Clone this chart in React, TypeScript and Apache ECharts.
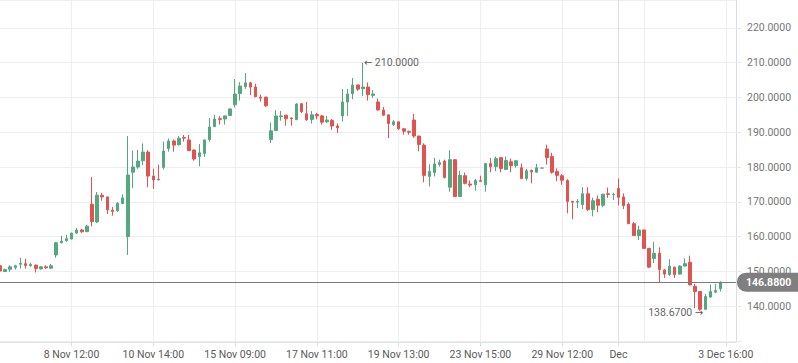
import React, { useEffect, useRef } from "react";
import * as echarts from "echarts";

// OHLC values, one per candle (slot 0..141)
const opens = [
  151.6, 149.95, 150.6, 151.1, 152.05, 152.2, 151.6, 151.8, 150.7, 151.3,
  150.9, 154.7, 158.2, 158.8, 159.3, 161.0, 161.9, 161.4, 169.3, 164.2,
  171.9, 171.4, 167.6, 167.4, 169.5, 160.0, 178.5, 180.0, 181.8, 184.3,
  177.4, 176.4, 179.9, 185.3, 187.5, 186.4, 188.5, 187.8, 184.9, 183.0,
  183.9, 187.9, 191.6, 193.9, 193.8, 194.8, 197.9, 201.1, 203.1, 204.2,
  203.0, 200.1, 200.1, 187.9, 190.5, 194.5, 194.9, 194.1, 193.6, 198.2,
  195.3, 193.7, 195.1, 194.7, 193.0, 193.4, 191.8, 194.7, 198.7, 201.1,
  203.6, 202.5, 203.0, 200.6, 198.7, 196.4, 195.0, 192.2, 193.0, 191.0,
  190.2, 193.5, 188.9, 186.3, 177.3, 178.4, 180.7, 181.7, 174.2, 182.1,
  171.5, 177.5, 175.1, 174.9, 176.1, 174.9, 181.0, 180.1, 182.7, 179.3,
  181.5, 180.4, 179.8, 176.7, 179.0, 178.5, 179.7, 185.2, 183.0, 178.7,
  177.5, 176.1, 170.1, 169.9, 169.2, 172.3, 167.8, 170.7, 169.0, 172.3,
  172.0, 173.8, 171.4, 169.3, 163.7, 160.3, 161.9, 156.6, 153.7, 155.2,
  150.4, 149.1, 151.2, 149.2, 151.5, 152.6, 145.7, 144.2, 139.1, 142.6,
  144.0, 145.0,
];
const closes = [
  150.1, 150.5, 151.3, 151.6, 152.3, 151.7, 152.0, 150.8, 151.3, 151.0,
  151.6, 158.2, 158.7, 159.4, 161.0, 161.9, 161.4, 163.0, 164.3, 171.9,
  171.4, 167.7, 167.2, 169.6, 171.1, 177.7, 180.0, 181.7, 184.3, 177.4,
  176.3, 176.3, 184.6, 187.5, 186.3, 188.3, 188.3, 184.7, 182.3, 184.1,
  187.8, 191.5, 193.8, 193.7, 194.7, 196.7, 201.0, 203.3, 204.2, 203.0,
  200.2, 199.8, 197.6, 190.4, 194.7, 194.7, 193.9, 193.9, 198.1, 195.9,
  193.6, 195.0, 194.7, 192.9, 193.5, 191.8, 191.3, 198.7, 201.0, 203.6,
  202.4, 203.0, 200.8, 201.0, 196.4, 194.9, 192.5, 193.0, 191.0, 190.3,
  190.0, 188.9, 186.5, 177.6, 178.7, 180.9, 181.3, 177.0, 182.1, 171.5,
  177.6, 175.3, 174.8, 176.1, 175.9, 181.0, 180.1, 182.4, 179.6, 181.9,
  180.4, 181.8, 176.7, 178.9, 178.6, 179.8, 179.7, 182.7, 178.5, 177.6,
  176.2, 170.1, 169.9, 170.1, 172.3, 167.8, 170.3, 169.0, 172.2, 172.1,
  172.1, 171.3, 168.9, 163.7, 160.3, 161.9, 156.6, 151.2, 155.2, 150.5,
  149.2, 151.5, 149.1, 151.5, 152.2, 146.1, 144.2, 139.1, 142.75, 144.2,
  144.5, 146.88,
];
const lows = [
  149.9, 149.85, 149.9, 150.5, 150.8, 150.8, 151.3, 149.65, 150.5, 150.7,
  150.7, 153.9, 158.1, 158.5, 159.2, 160.8, 161.0, 161.3, 162.9, 163.9,
  170.3, 166.5, 166.0, 167.1, 169.3, 154.7, 173.9, 179.5, 180.5, 174.2,
  173.7, 176.2, 179.3, 184.4, 184.4, 186.2, 187.3, 184.6, 181.8, 180.2,
  182.9, 187.3, 191.5, 192.2, 192.2, 194.7, 197.1, 199.1, 202.5, 200.7,
  200.1, 198.8, 197.3, 186.9, 190.4, 193.3, 191.9, 191.9, 193.5, 195.5,
  193.3, 192.5, 193.7, 192.2, 192.6, 190.7, 189.8, 193.1, 194.7, 199.5,
  201.9, 200.4, 199.1, 199.9, 196.3, 194.7, 188.3, 191.8, 190.7, 189.3,
  189.3, 188.4, 184.5, 175.6, 174.4, 177.3, 180.1, 176.7, 172.9, 171.4,
  171.4, 175.0, 174.2, 173.2, 175.8, 172.9, 178.5, 178.8, 178.5, 179.2,
  178.5, 179.8, 176.6, 176.1, 175.3, 178.4, 179.7, 180.7, 178.1, 175.9,
  174.9, 166.7, 165.0, 168.2, 167.9, 167.3, 165.8, 167.0, 168.4, 171.1,
  170.5, 169.0, 167.9, 163.6, 160.2, 159.0, 156.5, 151.0, 152.4, 146.8,
  148.1, 148.7, 148.1, 149.1, 151.4, 146.0, 139.4, 138.67, 138.9, 142.4,
  143.9, 144.2,
];
const highs = [
  151.8, 150.8, 151.7, 151.9, 153.9, 153.6, 152.5, 151.9, 151.5, 151.7,
  152.1, 158.5, 160.2, 160.5, 161.1, 162.5, 162.2, 163.4, 177.1, 172.8,
  172.6, 171.5, 168.5, 169.8, 172.1, 188.9, 184.7, 184.9, 186.8, 184.8,
  179.5, 180.7, 187.3, 188.2, 187.9, 188.9, 189.2, 189.2, 185.0, 186.6,
  187.9, 194.1, 195.0, 194.6, 194.8, 196.8, 205.3, 204.4, 207.0, 204.5,
  203.9, 200.8, 200.2, 192.8, 196.4, 196.1, 195.0, 194.2, 198.4, 198.4,
  198.7, 196.1, 195.6, 195.0, 194.7, 193.8, 192.5, 202.4, 202.4, 205.6,
  203.7, 210.0, 204.3, 202.1, 199.7, 197.3, 195.1, 193.5, 193.1, 191.1,
  190.5, 195.3, 189.0, 186.8, 180.8, 182.6, 182.1, 182.1, 184.8, 182.2,
  178.9, 178.4, 176.1, 176.6, 177.5, 181.0, 182.6, 183.0, 182.9, 183.0,
  182.4, 181.9, 181.0, 179.5, 179.3, 180.9, 179.7, 186.4, 184.1, 179.6,
  178.0, 176.5, 170.3, 170.8, 174.2, 174.2, 171.2, 171.8, 172.3, 174.1,
  172.6, 176.7, 172.4, 169.8, 164.2, 163.1, 162.0, 156.7, 158.5, 156.9,
  150.7, 153.5, 151.3, 151.7, 153.7, 154.5, 146.4, 144.3, 143.5, 146.2,
  146.4, 147.1,
];

// x axis: slot count (candles plus empty room on the right) and labelled slots
const slotCount = 145;
const tickLabels: Record<number, string> = {
  14: "8 Nov 12:00",
  30: "10 Nov 14:00",
  46: "15 Nov 09:00",
  62: "17 Nov 11:00",
  78: "19 Nov 13:00",
  94: "23 Nov 15:00",
  110: "29 Nov 12:00",
  121: "Dec",
  142: "3 Dec 16:00",
};
const gridLineSlots = [14, 30, 46, 62, 78, 94, 110, 121, 126, 142];
const monthSlot = 121;

const lastPrice = 146.88;
const maxPoint = { slot: 71, value: 210.0 };
const minPoint = { slot: 137, value: 138.67 };
const yMin = 129.68;
const yMax = 228.03;
const firstLabelledValue = 140;

const UP = "#55a77f";
const DOWN = "#e0534f";

export default function App() {
  const ref = useRef<HTMLDivElement>(null);
  useEffect(() => {
    if (!ref.current) return;
    const chart = echarts.init(ref.current, undefined, { renderer: "svg" });
    const categories = Array.from({ length: slotCount }, (_, i) => String(i));
    const data = opens.map((o, i) => [o, closes[i], lows[i], highs[i]]);
    const isTick = (i: number) => tickLabels[i] !== undefined;
    const gridColors = gridLineSlots.map((s) => (s === monthSlot ? "#dcdfe4" : "#eceef1"));
    const arrowRich = { a: { fontFamily: "DejaVu Sans", fontSize: 10, color: "#555555" } };
    chart.setOption({
      animation: false,
      textStyle: { fontFamily: "Roboto" },
      grid: { left: 0, right: 62, top: -1, bottom: 21 },
      xAxis: {
        type: "category",
        data: categories,
        boundaryGap: false,
        axisLine: { show: true, lineStyle: { color: "#dfe2e6", width: 1 } },
        axisTick: {
          show: true,
          interval: (i: number) => isTick(i),
          length: 4,
          lineStyle: { color: "#d8dbe0" },
        },
        axisLabel: {
          interval: (i: number) => isTick(i),
          formatter: (_v: string, i: number) => tickLabels[i] ?? "",
          color: (_v: string, i: number) => (i === monthSlot ? "#222222" : "#5a5a5a"),
          fontSize: 10.5,
          margin: 7,
        },
        splitLine: {
          show: true,
          interval: (i: number) => gridLineSlots.includes(i),
          lineStyle: { color: gridColors, width: 1 },
        },
      },
      yAxis: {
        type: "value",
        position: "right",
        min: yMin,
        max: yMax,
        splitNumber: 10,
        axisLine: { show: true, lineStyle: { color: "#d9dce0" } },
        axisTick: { show: true, length: 5, lineStyle: { color: "#e6e8eb" } },
        axisLabel: {
          showMinLabel: false,
          showMaxLabel: false,
          formatter: (v: number) => (v < firstLabelledValue ? "" : v.toFixed(4)),
          color: "#767676",
          fontSize: 10.5,
          margin: 11,
        },
        splitLine: { show: true, lineStyle: { color: "#eceef1" } },
      },
      series: [
        {
          type: "candlestick",
          data,
          barWidth: 3,
          clip: true,
          itemStyle: {
            color: UP,
            color0: DOWN,
            borderColor: UP,
            borderColor0: DOWN,
            borderColorDoji: "#8a8a8a",
            borderWidth: 1,
          },
          markLine: {
            silent: true,
            symbol: "none",
            lineStyle: { color: "#7b7b7b", width: 1, type: "solid" },
            label: {
              show: true,
              position: "end",
              distance: 1,
              formatter: () => lastPrice.toFixed(4),
              color: "#ffffff",
              fontWeight: "bold",
              fontSize: 10.5,
              backgroundColor: "#7f7f7f",
              padding: [4, 8, 4, 9],
              borderRadius: [9, 0, 0, 9],
            },
            data: [{ yAxis: lastPrice }],
          },
          markPoint: {
            symbol: "circle",
            symbolSize: 0,
            silent: true,
            label: { show: true, color: "#666666", fontSize: 10.5, rich: arrowRich },
            data: [
              {
                coord: [maxPoint.slot, maxPoint.value],
                label: {
                  position: "right",
                  distance: 1,
                  formatter: "{a|\u2190} " + maxPoint.value.toFixed(4),
                  rich: arrowRich,
                },
              },
              {
                coord: [minPoint.slot, minPoint.value],
                label: {
                  position: "left",
                  distance: -3,
                  offset: [0, 2],
                  formatter: minPoint.value.toFixed(4) + " {a|\u2192}",
                  rich: arrowRich,
                },
              },
            ],
          },
        },
      ],
    });
    return () => chart.dispose();
  }, []);
  return (
    <div
      ref={ref}
      style={{ position: "fixed", left: 0, top: 0, width: 798, height: 363, background: "#ffffff" }}
    />
  );
}
